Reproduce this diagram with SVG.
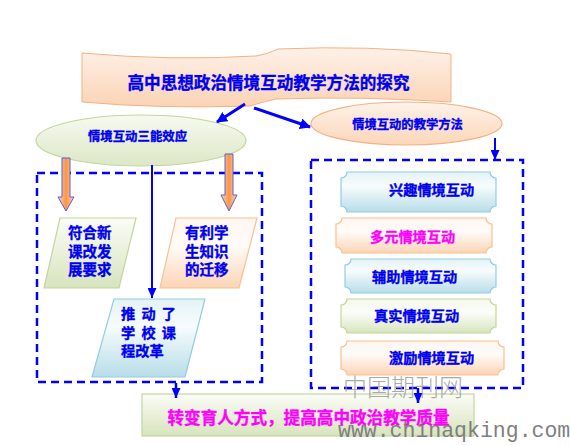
<svg xmlns="http://www.w3.org/2000/svg" width="570" height="446" viewBox="0 0 570 446">
<defs>
<linearGradient id="gPeach" x1="0" y1="0" x2="0" y2="1"><stop offset="0" stop-color="#FEF1E8"/><stop offset="1" stop-color="#FBD3B5"/></linearGradient>
<linearGradient id="gGreen" x1="0" y1="0" x2="0" y2="1"><stop offset="0" stop-color="#FBFCF7"/><stop offset="1" stop-color="#D7E4BD"/></linearGradient>
<linearGradient id="gBlue" x1="0" y1="0" x2="0" y2="1"><stop offset="0" stop-color="#E4F3F6"/><stop offset="0.35" stop-color="#F7FCFD"/><stop offset="1" stop-color="#B7DDE8"/></linearGradient>
<linearGradient id="gOrange" x1="0" y1="0" x2="0" y2="1"><stop offset="0" stop-color="#FEF6F0"/><stop offset="0.4" stop-color="#FFFBF8"/><stop offset="1" stop-color="#FBD4B4"/></linearGradient>
<linearGradient id="gGreenP" x1="0" y1="0" x2="0" y2="1"><stop offset="0" stop-color="#F4F8EC"/><stop offset="0.4" stop-color="#FCFDF9"/><stop offset="1" stop-color="#D7E4BD"/></linearGradient>
<linearGradient id="gEllG" x1="0" y1="0" x2="0" y2="1"><stop offset="0" stop-color="#F7FAF0"/><stop offset="1" stop-color="#DCE7C6"/></linearGradient>
<linearGradient id="gEllO" x1="0" y1="0" x2="0" y2="1"><stop offset="0" stop-color="#FEF3EA"/><stop offset="1" stop-color="#FBD6B8"/></linearGradient>
<linearGradient id="gBlock" x1="0" y1="0" x2="1" y2="0"><stop offset="0" stop-color="#FCD5B5"/><stop offset="0.5" stop-color="#F79646"/><stop offset="1" stop-color="#FCD5B5"/></linearGradient>
<marker id="ah" markerUnits="userSpaceOnUse" markerWidth="11" markerHeight="11" refX="10" refY="5.5" orient="auto"><path d="M0,0 L11,5.5 L0,11 Z" fill="#0000FF"/></marker>
<marker id="ahs" markerUnits="userSpaceOnUse" markerWidth="10" markerHeight="9" refX="10" refY="4.5" orient="auto"><path d="M0,0 L10,4.5 L0,9 Z" fill="#0000FF"/></marker>
</defs>
<style>
.t{font-family:"Noto Sans CJK SC","Noto Sans CJK JP",sans-serif;font-weight:bold;fill:#0000F0;stroke:#0000F0;stroke-width:0.35}
.m{fill:#FF00FF;stroke:#FF00FF}
.dash{fill:none;stroke:#0000FF;stroke-width:2.5;stroke-dasharray:8 5}
.ln{fill:none;stroke:#0000FF}
.blk{fill:url(#gBlock);stroke:#5B5BE0;stroke-width:1}
.pb{fill:url(#gBlue);stroke:#93CDDD;stroke-width:1.2}
.po{fill:url(#gOrange);stroke:#FAC090;stroke-width:1.2}
.pg{fill:url(#gGreenP);stroke:#C3D69B;stroke-width:1.2}
</style>
<rect width="570" height="446" fill="#FFFFFF"/>

<g id="title">
<path d="M82,53 Q170,61 256,56 Q268,54 278,49 Q370,45 451,54 L451,102 Q360,96 276,99 Q262,102 250,106 Q160,109 82,102 Z" fill="url(#gPeach)" stroke="#F4B183" stroke-width="1"/>
<text class="t" x="268.5" y="89" font-size="16.6" text-anchor="middle">高中思想政治情境互动教学方法的探究</text>
</g>

<g id="effects">
<ellipse cx="141" cy="140.5" rx="105" ry="25.5" fill="url(#gEllG)" stroke="#C3D69B" stroke-width="1.2"/>
<text class="t" x="137.5" y="140.5" font-size="12.4" text-anchor="middle">情境互动三能效应</text>
</g>

<g id="methods">
<ellipse cx="406.5" cy="123.5" rx="95.5" ry="21.5" fill="url(#gEllO)" stroke="#F4B183" stroke-width="1.2"/>
<text class="t" x="407.5" y="128.5" font-size="12.3" text-anchor="middle">情境互动的教学方法</text>
</g>

<g id="leftbox"><rect class="dash" x="37" y="173" width="225" height="209"/></g>
<g id="rightbox"><rect class="dash" x="311" y="160" width="212" height="228"/></g>

<g id="arrowL"><path class="blk" d="M62,158 L70,158 L70,197 L74,197 L66,211 L58,197 L62,197 Z"/></g>
<g id="arrowR"><path class="blk" d="M225,154 L233,154 L233,195 L237,195 L229,211 L221,195 L225,195 Z"/></g>

<g id="req">
<path d="M60,218 L136,218 L119,288 L44,288 Z" fill="url(#gGreen)" stroke="#C3D69B" stroke-width="1.2"/>
<text class="t" font-size="14.5" x="68" y="238">符合新</text>
<text class="t" font-size="14.5" x="68" y="257">课改发</text>
<text class="t" font-size="14.5" x="68" y="275">展要求</text>
</g>

<g id="transfer">
<path d="M176,218 L257,218 L239,288 L160,288 Z" fill="url(#gOrange)" stroke="#FAC090" stroke-width="1.2"/>
<text class="t" font-size="14.5" x="185" y="238">有利学</text>
<text class="t" font-size="14.5" x="185" y="257">生知识</text>
<text class="t" font-size="14.5" x="185" y="275">的迁移</text>
</g>

<g id="reform">
<path d="M114,299 L205,299 L185,377 L92,377 Z" fill="url(#gBlue)" stroke="#93CDDD" stroke-width="1.2"/>
<text class="t" font-size="14.2" x="121" y="319" word-spacing="3">推 动 了</text>
<text class="t" font-size="14.2" x="121" y="338" word-spacing="3">学 校 课</text>
<text class="t" font-size="14.2" x="121" y="356">程改革</text>
</g>

<g id="m1"><path class="pb" d="M347,172 L490,172 A6,6 0 0 0 496,178 L496,206 A6,6 0 0 0 490,212 L347,212 A6,6 0 0 0 341,206 L341,178 A6,6 0 0 0 347,172 Z"/><text class="t" font-size="14.2" x="389" y="195">兴趣情境互动</text></g>
<g id="m2"><path class="po" d="M342,218 L486,218 A6,6 0 0 0 492,224 L492,247 A6,6 0 0 0 486,253 L342,253 A6,6 0 0 0 336,247 L336,224 A6,6 0 0 0 342,218 Z"/><text class="t m" font-size="14.2" x="370" y="242">多元情境互动</text></g>
<g id="m3"><path class="pb" d="M351,259 L490,259 A6,6 0 0 0 496,265 L496,287 A6,6 0 0 0 490,293 L351,293 A6,6 0 0 0 345,287 L345,265 A6,6 0 0 0 351,259 Z"/><text class="t" font-size="14.2" x="372" y="282">辅助情境互动</text></g>
<g id="m4"><path class="pg" d="M347,299 L490,299 A6,6 0 0 0 496,305 L496,327 A6,6 0 0 0 490,333 L347,333 A6,6 0 0 0 341,327 L341,305 A6,6 0 0 0 347,299 Z"/><text class="t" font-size="14.2" x="374" y="321">真实情境互动</text></g>
<g id="m5"><path class="po" d="M347,341 L498,341 A6,6 0 0 0 504,347 L504,369 A6,6 0 0 0 498,375 L347,375 A6,6 0 0 0 341,369 L341,347 A6,6 0 0 0 347,341 Z"/><text class="t" font-size="14.2" x="389" y="363">激励情境互动</text></g>

<g id="result">
<rect x="142" y="394" width="332" height="42" fill="url(#gGreen)" stroke="#C3D69B" stroke-width="1.2"/>
<text class="t m" font-size="16.6" x="308.5" y="424" text-anchor="middle">转变育人方式，提高高中政治教学质量</text>
</g>

<g id="connectors">
<line class="ln" x1="245" y1="104" x2="217" y2="122" stroke-width="3" marker-end="url(#ah)"/>
<line class="ln" x1="254" y1="108" x2="310" y2="127" stroke-width="3" marker-end="url(#ah)"/>
<line class="ln" x1="152" y1="165" x2="152" y2="298" stroke-width="2" marker-end="url(#ahs)"/>
<line class="ln" x1="495" y1="138" x2="495" y2="160" stroke-width="2" marker-end="url(#ahs)"/>
<line class="ln" x1="176" y1="383" x2="176" y2="398" stroke-width="2.5" marker-end="url(#ahs)"/>
<line class="ln" x1="418" y1="388" x2="418" y2="403" stroke-width="2.5" marker-end="url(#ahs)"/>
</g>

<g id="watermark">
<text x="343" y="396" font-size="24" font-family="Noto Sans CJK SC, sans-serif" font-weight="300" fill="#9A9A9A" fill-opacity="0.85">中国期刊网</text>
<text x="338" y="437" font-size="21.5" font-family="Liberation Mono, monospace" fill="#7F7F7F">www.chinaqking.com</text>
</g>
</svg>
